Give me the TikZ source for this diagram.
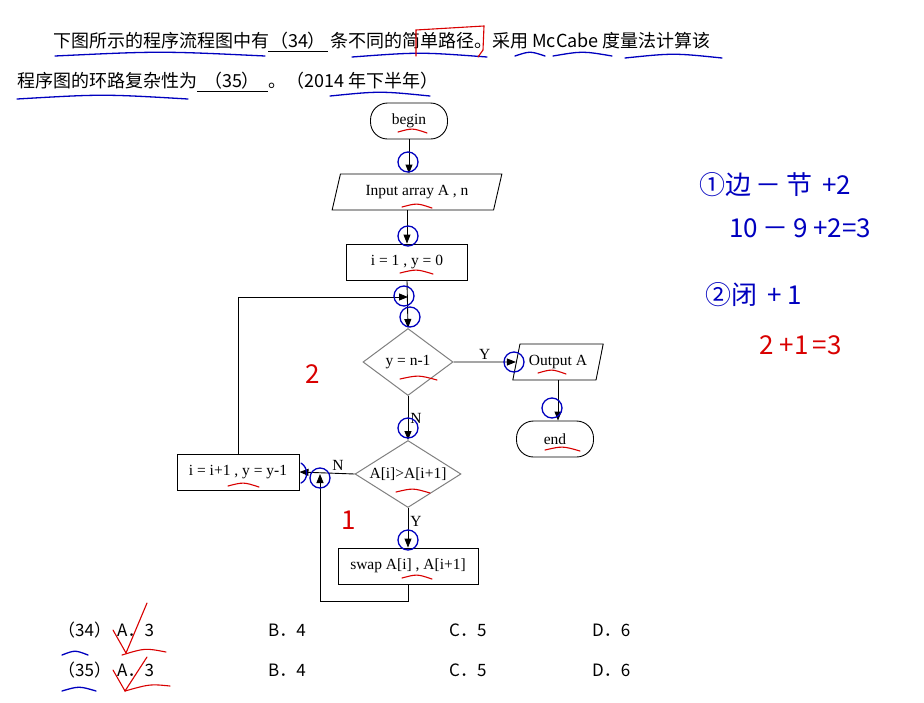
\documentclass[tikz,border=0pt]{standalone}
\usepackage{fontspec}
\setmainfont{Liberation Serif}
\newfontfamily\cjk{Noto Sans CJK SC}
\usetikzlibrary{arrows.meta,positioning,shapes.geometric}
\newcommand\flowfont{\fontsize{15.5}{18}\selectfont}
\newcommand\qfont{\cjk\fontsize{18}{22}\selectfont}
\newcommand\ansfont{\cjk\fontsize{17}{20}\selectfont}
\newcommand\handfont{\cjk\fontsize{26}{30}\selectfont}

\begin{document}
\begin{tikzpicture}[x=1pt, y=-1pt,
  term/.style={draw, line width=0.9pt, rounded corners=17pt, minimum width=77pt, minimum height=36pt, font=\flowfont},
  io/.style={draw, line width=0.9pt, trapezium, trapezium left angle=70, trapezium right angle=110, trapezium stretches=true, minimum height=36pt, inner sep=1pt, font=\flowfont},
  proc/.style={draw, line width=0.9pt, minimum height=36pt, inner sep=1pt, font=\flowfont},
  cond/.style={draw=gray, line width=1pt, diamond, aspect=1.6, inner sep=0pt, minimum height=67pt, font=\flowfont},
  arr/.style={-{Triangle[length=9pt, width=7pt]}, line width=0.9pt},
  lbl/.style={font=\flowfont, inner sep=2pt},
  qtext/.style={anchor=base west, inner sep=0pt, font=\qfont},
  anstext/.style={anchor=base west, inner sep=0pt, font=\ansfont},
  bluepen/.style={draw=blue!75!black, line width=1.3pt, line cap=round},
  redpen/.style={draw=red!85!black, line width=1.1pt, line cap=round}
]
\useasboundingbox[fill=white] (0,0) rectangle (924,702);

% question
\node[qtext] (q1a) at (53,47) {下图所示的程序流程图中有};
\node[qtext, anchor=base] (q34) at (298,47) {（34）};
\node[qtext] (q1b) at (330,47) {条不同的简单路径。采用 McCabe 度量法计算该};
\node[qtext] (q2a) at (17,87) {程序图的环路复杂性为};
\node[qtext, anchor=base] (q35) at (232,87) {（35）};
\node[qtext] (q2b) at (268,87) {。（2014 年下半年）};
\draw[thick] (268,51) -- (328,51);
\draw[thick] (197,91) -- (268,91);

% flowchart
\node[term] (begin) at (409,121) {begin};
\node[io, minimum width=170pt] (input) at (417,192) {Input array A , n};
\node[proc, minimum width=121pt] (init) at (407,262) {i = 1 , y = 0};
\coordinate (join) at (408,297);
\node[cond, minimum width=90pt] (test) at (408,362) {y = n-1};
\node[io, minimum width=91pt] (out) at (558,362) {Output A};
\node[term] (end) at (555,439) {end};
\node[cond, minimum width=106pt] (cmp) at (408,474) {A[i]>A[i+1]};
\node[proc, minimum width=122pt] (step) at (238,472) {i = i+1 , y = y-1};
\node[proc, minimum width=140pt] (swap) at (408,566) {swap A[i] , A[i+1]};
\coordinate (back) at (320,601);

\draw[arr] (begin.south) -- (begin.south |- input.north);
\draw[arr] (input.south -| init) -- (init.north);
\draw[arr] (init.south) -- (test.north);
\draw[arr] (step.north) |- (join);
\draw[arr] (test.east) -- node[lbl, above]{Y} (out.west);
\draw[arr] (out.south) -- (out.south |- end.north);
\draw[arr] (test.south) -- node[lbl, right]{N} (cmp.north);
\draw[arr] (cmp.west) -- node[lbl, above, pos=0.3]{N} (step.east);
\draw[arr] (cmp.south) -- node[lbl, right, pos=0.35]{Y} (swap.north);
\draw[arr] (swap.south) |- (back) -- (back |- cmp.west);

% answers
\foreach \row/\y in {34/636, 35/676} {
  \node[anstext] (ans\row) at (58,\y) {（\row）};
  \node[anstext] (a\row) at (117,\y) {A．3};
  \node[anstext] (b\row) at (268,\y) {B．4};
  \node[anstext] (c\row) at (449,\y) {C．5};
  \node[anstext] (d\row) at (592,\y) {D．6};
}

% handwritten notes
\node[anchor=west, text=blue!75!black, font=\handfont] (note1) at (696,185) {①边\,－\,节\hspace{10pt}+2};
\node[anchor=west, text=blue!75!black, font=\handfont] (note2) at (726,228) {10\,－\,9\hspace{6pt}+2=3};
\node[anchor=west, text=blue!75!black, font=\handfont] (note3) at (702,295) {②闭\hspace{10pt}+\hspace{6pt}1};
\node[anchor=west, text=red!85!black, font=\handfont] (note4) at (756,345) {2\hspace{6pt}+1\hspace{4pt}=3};
\node[text=red!85!black, font=\handfont] (two) at (313,374) {2};
\node[text=red!85!black, font=\handfont] (one) at (349,520) {1};

\foreach \p in {(408,162),(408,236),(404,296),(410,317),(408,428),(408,540),(514,362),(552,408),(320,478)}
  \draw[bluepen] \p circle[radius=10];
\draw[bluepen] (301,463) .. controls (309,468) and (308,480) .. (301,483);

\foreach \a/\b/\y in {398/427/131, 402/432/206, 400/433/272, 400/437/378, 396/430/491, 228/259/485, 402/432/577, 538/566/372, 545/580/449}
  \draw[redpen] (\a,\y+1) .. controls ({(\a+\b)/2},\y-3) .. (\b,\y+2);

\foreach \a/\b/\y in {55/265/55, 352/487/56, 515/545/55, 553/612/55, 625/722/57, 17/188/98, 330/430/95, 62/88/654, 62/96/690}
  \draw[bluepen] (\a,\y+1) .. controls ({(\a+\b)/2},\y-4) .. (\b,\y+1);

\draw[redpen] (416,56) -- (416,30) -- (484,26) -- (483,50) -- (478,57);
\draw[redpen] (113,630) -- (126,653) -- (147,603);
\draw[redpen] (122,655) .. controls (145,648) .. (166,652);
\draw[redpen] (113,670) -- (125,691) -- (147,657);
\draw[redpen] (125,691) .. controls (150,684) .. (170,686);
\end{tikzpicture}
\end{document}
